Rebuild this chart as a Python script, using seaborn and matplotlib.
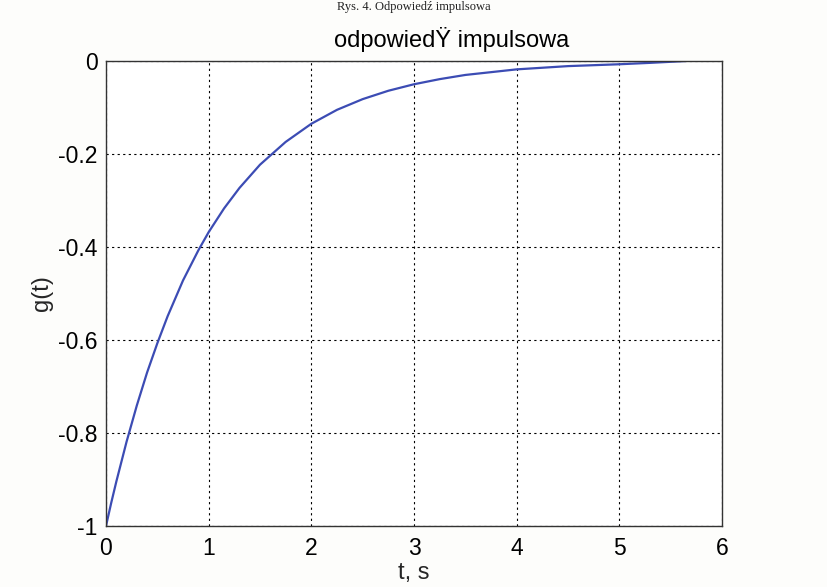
import matplotlib
matplotlib.use("Agg")
import matplotlib.pyplot as plt
import seaborn as sns
import pandas as pd

t_values = [0.0, 0.05, 0.1, 0.2, 0.3, 0.4, 0.5, 0.6, 0.75, 0.9, 1.0, 1.15, 1.3, 1.5, 1.75,
            2.0, 2.25, 2.5, 2.75, 3.0, 3.25, 3.5, 3.75, 4.0, 4.5, 5.0, 5.3, 5.65]
g_values = [-1.0, -0.951, -0.905, -0.819, -0.741, -0.670, -0.607, -0.549, -0.472, -0.407,
            -0.368, -0.317, -0.273, -0.223, -0.174, -0.135, -0.105, -0.082, -0.064, -0.050,
            -0.039, -0.030, -0.024, -0.018, -0.011, -0.007, -0.004, 0.0]
x_ticks = [0, 1, 2, 3, 4, 5, 6]
y_ticks = [-1, -0.8, -0.6, -0.4, -0.2, 0]
y_tick_labels = ["-1", "-0.8", "-0.6", "-0.4", "-0.2", "0"]
title = "odpowiedŸ impulsowa"
x_label = "t, s"
y_label = "g(t)"
caption = "Rys. 4. Odpowiedź impulsowa"

sns.set_theme(style="white")
plt.rcParams['font.family'] = ['Liberation Sans', 'DejaVu Sans']

df = pd.DataFrame({"t": t_values, "g": g_values})

W, H = 827, 587
fig = plt.figure(figsize=(W / 100, H / 100), dpi=100, facecolor="#fdfdfb")
ax = fig.add_axes([106 / W, 1 - 526 / H, (722 - 106) / W, (526 - 61) / H])
ax.set_facecolor("white")
sns.lineplot(data=df, x="t", y="g", ax=ax, color="#3c4cb4", linewidth=1.6)

ax.set_xlim(0, 6)
ax.set_ylim(-1, 0)
ax.set_xticks(x_ticks)
ax.set_xticklabels([str(v) for v in x_ticks])
ax.set_yticks(y_ticks)
ax.set_yticklabels(y_tick_labels)
ax.grid(True, color="black", linestyle=(0, (2, 3)), linewidth=0.8)
ax.tick_params(axis="both", direction="in", length=4, labelsize=16.5, colors="black")
ax.tick_params(axis="x", pad=8)
ax.tick_params(axis="y", pad=6)
for s in ax.spines.values():
    s.set_color("#333333")
    s.set_linewidth(1.0)
ax.set_xlabel(x_label, fontsize=17, labelpad=1)
ax.set_ylabel(y_label, fontsize=17, labelpad=4)

fig.text(452 / W, 1 - 40 / H, title, ha="center", va="center", fontsize=17, color="black")
fig.text(0.5, 0.999, caption, ha="center", va="top",
         fontsize=9, family=["Liberation Serif", "DejaVu Serif"], color="#222222")

fig.savefig("out.png", dpi=100, facecolor=fig.get_facecolor())
